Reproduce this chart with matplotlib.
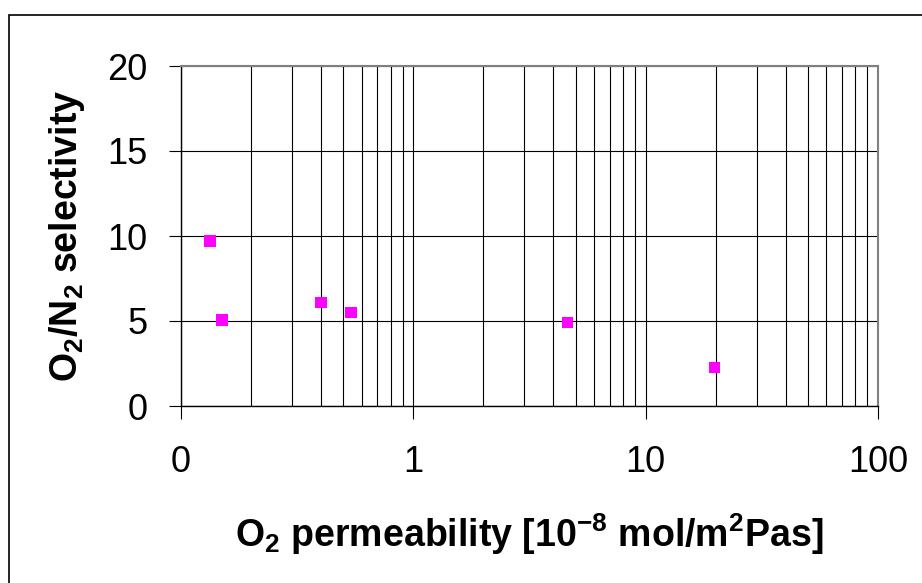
import numpy as np
import matplotlib
matplotlib.use("Agg")
import matplotlib.pyplot as plt
from matplotlib.patches import Rectangle
from matplotlib.ticker import FixedLocator, NullFormatter

plt.rcParams['font.family'] = ['Liberation Sans', 'DejaVu Sans']
plt.rcParams['mathtext.fontset'] = 'custom'
plt.rcParams['mathtext.rm'] = 'Liberation Sans'
plt.rcParams['mathtext.bf'] = 'Liberation Sans:bold'

# Datos
permeabilidad = [0.133, 0.15, 0.40, 0.54, 4.6, 19.8]
selectividad = [9.7, 5.05, 6.1, 5.5, 4.9, 2.25]

xticks = [0.1, 1, 10, 100]
xtick_labels = ["0", "1", "10", "100"]
yticks = [0, 5, 10, 15, 20]

fig = plt.figure(figsize=(9.22, 5.83), dpi=100)
ax = fig.add_axes([181/922, 1 - 406/583, 697/922, 340/583])

ax.scatter(permeabilidad, selectividad, marker="s", s=68, color="#ff00ff",
           edgecolors="none", zorder=3)

ax.set_xscale("log")
ax.set_xlim(0.1, 100)
ax.set_ylim(0, 20)

ax.xaxis.set_major_locator(FixedLocator(xticks))
ax.set_xticklabels(xtick_labels)
minors = [m * 10.0**e for e in (-1, 0, 1) for m in range(2, 10)]
ax.xaxis.set_minor_locator(FixedLocator(minors))
ax.xaxis.set_minor_formatter(NullFormatter())
ax.set_yticks(yticks)

ax.set_axisbelow(True)
ax.grid(True, which="both", axis="x", color="black", lw=0.8)
ax.grid(True, which="major", axis="y", color="black", lw=0.8)

ax.tick_params(axis="both", which="major", direction="out", length=9,
               width=0.8, color="black", labelsize=26)
ax.tick_params(axis="x", which="major", pad=19)
ax.tick_params(axis="y", which="major", pad=15)
ax.tick_params(axis="x", which="minor", length=0)

for lado in ("top", "right"):
    ax.spines[lado].set_color("#808080")
    ax.spines[lado].set_linewidth(1.5)
for lado in ("left", "bottom"):
    ax.spines[lado].set_color("black")
    ax.spines[lado].set_linewidth(1.0)

ax.set_xlabel(r"O$_{\mathbf{2}}$ permeability [10$^{\mathbf{-8}}$ mol/m$^{\mathbf{2}}$Pas]",
              fontsize=27, fontweight="bold")
ax.set_ylabel(r"O$_{\mathbf{2}}$/N$_{\mathbf{2}}$ selectivity",
              fontsize=27, fontweight="bold")
ax.xaxis.set_label_coords(0.5, -0.31)
ax.yaxis.set_label_coords(-0.135, 0.5)

# Marco exterior del grafico
fig.patches.append(Rectangle((9/922, -0.05), 1.1, 1 - 15/583 + 0.05,
                             transform=fig.transFigure, fill=False,
                             edgecolor="black", lw=1.2))

fig.savefig("out.png", dpi=100)
